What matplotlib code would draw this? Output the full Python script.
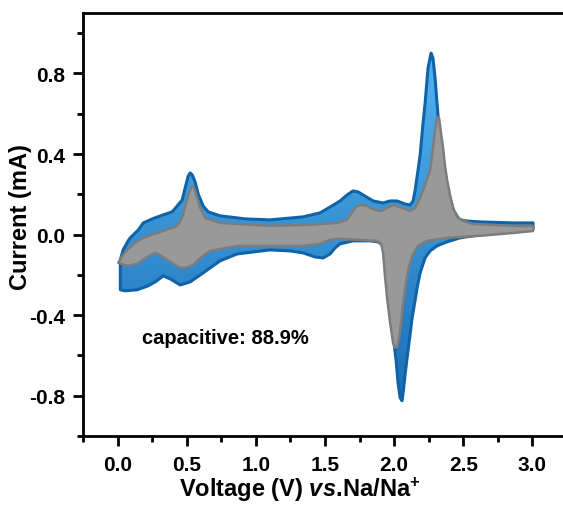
import numpy as np
import matplotlib.pyplot as plt
from matplotlib.patches import Polygon
from matplotlib.colors import LinearSegmentedColormap
from matplotlib.ticker import MultipleLocator

plt.rcParams['font.family'] = 'Liberation Sans'
plt.rcParams['font.weight'] = 'bold'
plt.rcParams['mathtext.fontset'] = 'custom'
plt.rcParams['mathtext.rm'] = 'Liberation Sans:bold'
plt.rcParams['mathtext.bf'] = 'Liberation Sans:bold'
plt.rcParams['mathtext.it'] = 'Liberation Sans:italic:bold'

# total current (blue), anodic scan 0 -> 3 V
total_up_v = [0.02, 0.04, 0.077, 0.092, 0.15, 0.186, 0.251, 0.33, 0.395, 0.431, 0.467, 0.489,
              0.511, 0.525, 0.54, 0.561, 0.583, 0.619, 0.655, 0.742, 0.923, 1.103, 1.342, 1.465,
              1.537, 1.609, 1.66, 1.703, 1.739, 1.775, 1.848, 1.92, 1.971, 2.021, 2.079, 2.115,
              2.137, 2.151, 2.173, 2.188, 2.209, 2.224, 2.245, 2.267, 2.281, 2.296, 2.31, 2.322,
              2.335, 2.355, 2.388, 2.43, 2.47, 2.513, 2.621, 2.86, 3.005]
total_up_i = [-0.126, -0.076, -0.031, -0.016, 0.023, 0.058, 0.078, 0.098, 0.113, 0.142, 0.172, 0.232,
              0.291, 0.306, 0.296, 0.261, 0.202, 0.142, 0.113, 0.093, 0.078, 0.073, 0.088, 0.108,
              0.137, 0.167, 0.197, 0.217, 0.212, 0.197, 0.167, 0.157, 0.167, 0.167, 0.152, 0.147,
              0.167, 0.217, 0.321, 0.395, 0.554, 0.653, 0.826, 0.901, 0.876, 0.777, 0.653, 0.554,
              0.48, 0.37, 0.22, 0.12, 0.075, 0.068, 0.063, 0.058, 0.058]
# total current, cathodic scan 3 -> 0 V
total_dn_v = [3.005, 2.86, 2.621, 2.477, 2.383, 2.31, 2.26, 2.224, 2.188, 2.166, 2.151, 2.13,
              2.115, 2.094, 2.079, 2.065, 2.057, 2.043, 2.028, 2.016, 1.999, 1.979, 1.953, 1.937,
              1.924, 1.884, 1.826, 1.703, 1.609, 1.573, 1.537, 1.486, 1.429, 1.342, 1.248, 1.103,
              0.865, 0.742, 0.619, 0.525, 0.453, 0.381, 0.33, 0.272, 0.222, 0.142, 0.056, 0.02]
total_dn_i = [0.028, 0.023, -0.001, -0.016, -0.036, -0.056, -0.081, -0.115, -0.19, -0.264, -0.329, -0.413,
              -0.497, -0.611, -0.696, -0.785, -0.825, -0.81, -0.735, -0.636, -0.537, -0.413, -0.264, -0.126,
              -0.056, -0.036, -0.031, -0.031, -0.046, -0.066, -0.096, -0.116, -0.111, -0.091, -0.081, -0.076,
              -0.096, -0.13, -0.19, -0.235, -0.25, -0.22, -0.205, -0.235, -0.254, -0.274, -0.279, -0.274]

# capacitive contribution (grey)
cap_up_v = [0.005, 0.034, 0.07, 0.128, 0.186, 0.33, 0.431, 0.467, 0.496, 0.525, 0.54, 0.554,
            0.576, 0.598, 0.633, 0.742, 1.103, 1.371, 1.588, 1.66, 1.696, 1.732, 1.768, 1.804,
            1.862, 1.906, 1.949, 1.992, 2.043, 2.115, 2.151, 2.188, 2.224, 2.26, 2.281, 2.296,
            2.31, 2.325, 2.339, 2.354, 2.368, 2.383, 2.404, 2.426, 2.455, 2.498, 2.57, 2.86, 3.005]
cap_up_i = [-0.14, -0.106, -0.076, -0.041, -0.016, 0.018, 0.043, 0.083, 0.157, 0.222, 0.241, 0.232,
            0.182, 0.132, 0.083, 0.058, 0.043, 0.048, 0.058, 0.073, 0.113, 0.142, 0.147, 0.142,
            0.122, 0.117, 0.132, 0.147, 0.137, 0.117, 0.132, 0.182, 0.246, 0.321, 0.43, 0.519,
            0.583, 0.578, 0.504, 0.43, 0.341, 0.271, 0.197, 0.132, 0.088, 0.068, 0.053, 0.043, 0.043]
cap_dn_v = [3.005, 2.86, 2.621, 2.383, 2.238, 2.173, 2.137, 2.108, 2.086, 2.065, 2.05, 2.036,
            2.021, 2.006, 1.992, 1.971, 1.949, 1.935, 1.92, 1.906, 1.877, 1.732, 1.588, 1.537,
            1.465, 1.342, 0.865, 0.67, 0.598, 0.547, 0.489, 0.453, 0.359, 0.309, 0.272, 0.236,
            0.142, 0.07, 0.005]
cap_dn_i = [0.018, 0.008, -0.006, -0.016, -0.031, -0.056, -0.096, -0.155, -0.24, -0.339, -0.438, -0.512,
            -0.557, -0.562, -0.537, -0.438, -0.314, -0.215, -0.091, -0.046, -0.031, -0.026, -0.021, -0.026,
            -0.046, -0.056, -0.056, -0.081, -0.116, -0.15, -0.165, -0.165, -0.126, -0.101, -0.091, -0.101,
            -0.145, -0.155, -0.14]

x_ticks = [0.0, 0.5, 1.0, 1.5, 2.0, 2.5, 3.0]
y_ticks = [-0.8, -0.4, 0.0, 0.4, 0.8]
note = 'capacitive: 88.9%'

fig = plt.figure(figsize=(5.63, 5.10), dpi=100)
ax = fig.add_axes([0.1474, 0.1431, 0.8597, 0.8294])
ax.set_xlim(-0.25, 3.25)
ax.set_ylim(-1.0, 1.1)

# blue loop with a vertical gradient
tot = np.column_stack([total_up_v + total_dn_v, total_up_i + total_dn_i])
blue_patch = Polygon(tot, closed=True, facecolor='none', edgecolor='#0f63a9',
                     linewidth=2.2, joinstyle='round', zorder=3)
ax.add_patch(blue_patch)
cmap = LinearSegmentedColormap.from_list('bl', ['#1c6cb4', '#3792d4', '#55b4f2'])
grad = np.linspace(0, 1, 256).reshape(-1, 1)
im = ax.imshow(grad, extent=[-0.25, 3.25, -0.85, 0.92], origin='lower', aspect='auto',
               cmap=cmap, zorder=2)
im.set_clip_path(blue_patch)

# grey loop
cap = np.column_stack([cap_up_v + cap_dn_v, cap_up_i + cap_dn_i])
ax.add_patch(Polygon(cap, closed=True, facecolor='#999999', edgecolor='#7d7d7d',
                     linewidth=1.8, joinstyle='round', zorder=4))

ax.text(0.18, -0.51, note, fontsize=14.5, fontweight='bold', va='center', ha='left', zorder=5)

ax.set_xticks(x_ticks)
ax.set_yticks(y_ticks)
ax.set_xticklabels([f'{v:.1f}' for v in x_ticks])
ax.set_yticklabels([f'{v:.1f}' for v in y_ticks])
ax.xaxis.set_minor_locator(MultipleLocator(0.25))
ax.yaxis.set_minor_locator(MultipleLocator(0.2))
ax.tick_params(which='major', direction='out', length=7, width=2, labelsize=15, pad=6)
ax.tick_params(which='minor', direction='out', length=4, width=2)
ax.tick_params(axis='x', which='major', pad=7)
for s in ax.spines.values():
    s.set_linewidth(2)

ax.set_xlabel(r'Voltage (V) $\mathit{vs.}\!$Na/Na$^{\mathbf{+}}$', fontsize=17, fontweight='bold')
ax.xaxis.set_label_coords(0.448, -0.092)
ax.set_ylabel('Current (mA)', fontsize=17, fontweight='bold')
ax.yaxis.set_label_coords(-0.105, 0.52)

fig.savefig('out.png', dpi=100)
